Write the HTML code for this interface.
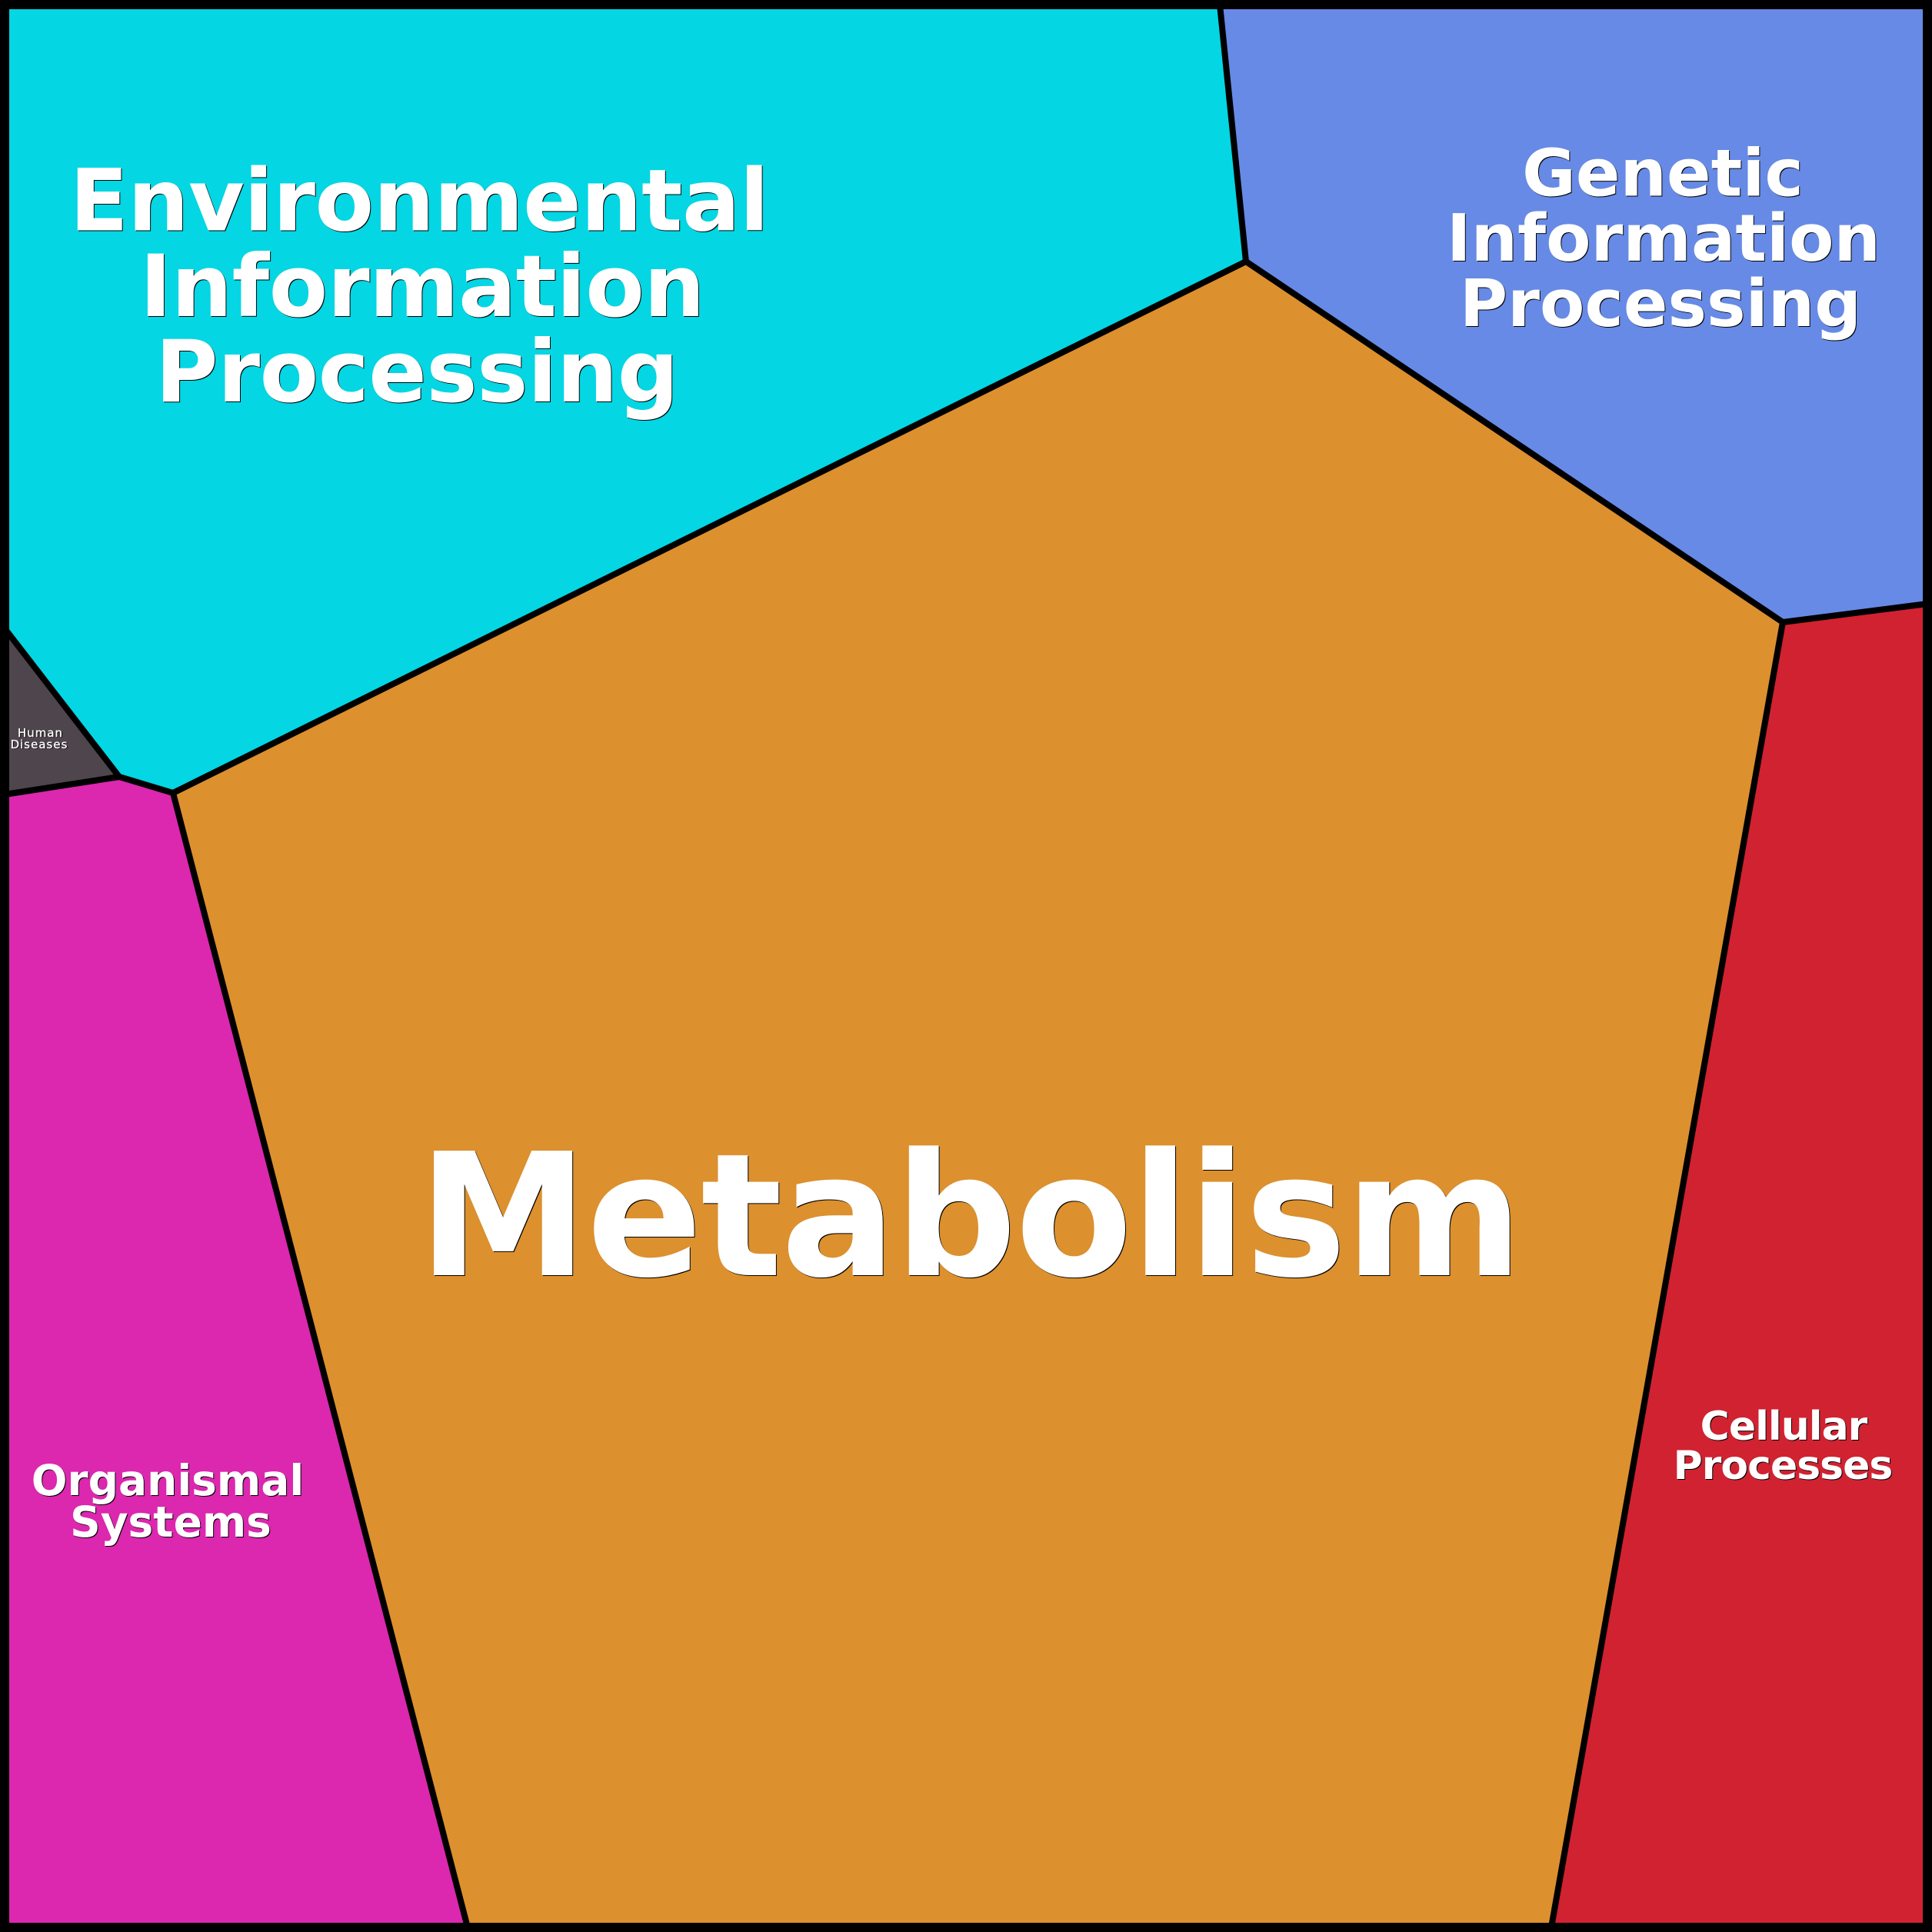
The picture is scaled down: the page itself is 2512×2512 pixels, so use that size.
<!DOCTYPE html>
<html>
<head>
<meta charset="utf-8">
<style>
html,body{margin:0;padding:0;background:#000;width:2512px;height:2512px;overflow:hidden}
svg{display:block}
text{font-family:"DejaVu Sans","Liberation Sans",sans-serif;font-weight:bold;text-anchor:middle}
.s{fill:#000}
.w{fill:#fff}
</style>
</head>
<body>
<svg xmlns="http://www.w3.org/2000/svg" width="2512" height="2512" viewBox="0 0 2512 2512">
<rect width="2512" height="2512" fill="#dc27af"/>
<polygon points="1620,340 2318,809 2017,2506 608,2506 225,1031" fill="#dc902e"/>
<polygon points="6,6 1586,6 1620,340 225,1031 155,1010 6,817" fill="#04d6e3"/>
<polygon points="1586,6 2506,6 2506,785 2318,809 1620,340" fill="#668ae6"/>
<polygon points="2318,809 2506,785 2506,2506 2017,2506" fill="#d12231"/>
<polygon points="6,817 155,1010 6,1033" fill="#4f454c"/>
<g fill="none" stroke="#000" stroke-width="8" stroke-linejoin="miter">
<polyline points="1586,6 1620,340 2318,809 2017,2506"/>
<polyline points="6,817 155,1010 225,1031 608,2506"/>
<line x1="1620" y1="340" x2="225" y2="1031"/>
<line x1="2318" y1="809" x2="2506" y2="785"/>
<line x1="155" y1="1010" x2="6" y2="1033"/>
</g>
<rect x="6" y="6" width="2500" height="2500" fill="none" stroke="#000" stroke-width="12"/>

<g font-size="222" letter-spacing="-2"><text class="s" x="1262" y="1659">Metabolism</text><text class="w" x="1261" y="1658">Metabolism</text></g>
<g font-size="111.5" letter-spacing="-0.5">
<text class="s" x="546" y="300.5">Environmental</text><text class="w" x="545" y="299.5">Environmental</text>
<text class="s" x="550" y="412">Information</text><text class="w" x="549" y="411">Information</text>
<text class="s" x="543" y="523">Processing</text><text class="w" x="542" y="522">Processing</text>
</g>
<g font-size="85">
<text class="s" x="2163" y="255.5">Genetic</text><text class="w" x="2162" y="254.5">Genetic</text>
<text class="s" x="2164" y="340">Information</text><text class="w" x="2163" y="339">Information</text>
<text class="s" x="2160" y="425">Processing</text><text class="w" x="2159" y="424">Processing</text>
</g>
<g font-size="55">
<text class="s" x="219" y="1945">Organismal</text><text class="w" x="218" y="1944">Organismal</text>
<text class="s" x="223" y="1999">Systems</text><text class="w" x="222" y="1998">Systems</text>
</g>
<g font-size="52" letter-spacing="-1">
<text class="s" x="2320" y="1873">Cellular</text><text class="w" x="2319" y="1872">Cellular</text>
<text class="s" x="2319" y="1924">Processes</text><text class="w" x="2318" y="1923">Processes</text>
</g>
<g font-size="15" letter-spacing="1" style="font-weight:normal">
<text class="s" x="53.5" y="958.7" stroke="#000" stroke-width="0.3" style="font-weight:normal">Human</text><text class="w" x="52.5" y="958" stroke="#fff" stroke-width="0.3" style="font-weight:normal">Human</text>
<text class="s" x="52" y="973.7" stroke="#000" stroke-width="0.3" style="font-weight:normal">Diseases</text><text class="w" x="51" y="973" stroke="#fff" stroke-width="0.3" style="font-weight:normal">Diseases</text>
</g>
</svg>
</body>
</html>
